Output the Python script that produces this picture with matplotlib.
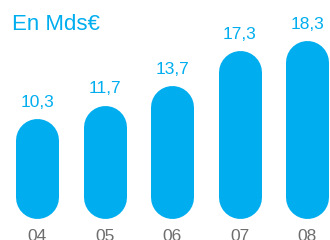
import matplotlib
matplotlib.use("Agg")
import matplotlib.pyplot as plt

years = ["04", "05", "06", "07", "08"]
values = [10.3, 11.7, 13.7, 17.3, 18.3]
labels = ["10,3", "11,7", "13,7", "17,3", "18,3"]

blue = "#00AEEF"
grey = "#6E6E6E"
plt.rcParams["font.family"] = ["Liberation Sans", "DejaVu Sans"]

fig = plt.figure(figsize=(3.3, 2.4), dpi=100)
ax = fig.add_axes([0, 0, 1, 1])
ax.set_xlim(-0.556, 4.34)
ax.set_ylim(-2.156, 22.48)
ax.axis("off")

# pills: thick lines with round caps (width 43 px)
px_per_unit = 9.74
r = 21.5 / px_per_unit
lw = 43 * 72 / 100
for i, v in enumerate(values):
    ax.plot([i, i], [r, v - r], color=blue, lw=lw, solid_capstyle="round")
    ax.annotate(labels[i], xy=(i, v), xytext=(0, 8.5), textcoords="offset points",
                ha="center", va="baseline", fontsize=12.5, color=blue)
    ax.annotate(years[i], xy=(i, 0), xytext=(0, -7.5), textcoords="offset points",
                ha="center", va="top", fontsize=12.5, color=grey)

fig.text(12 / 330, 1 - 30 / 240, "En Mds€", fontsize=16, color=blue,
         ha="left", va="baseline")

fig.savefig("out.png", dpi=100)
plt.close(fig)
